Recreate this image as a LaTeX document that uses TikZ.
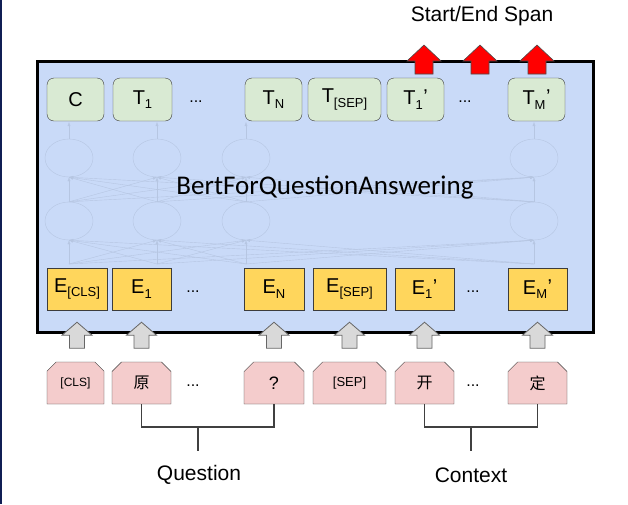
\documentclass[tikz,border=0pt]{standalone}
\usepackage{fontspec}
\setmainfont{Liberation Sans}
\newfontfamily\cjk{Noto Sans CJK SC}
\newfontfamily\calibri{Carlito}
\usetikzlibrary{shapes.misc,shapes.geometric,arrows.meta,calc}
\definecolor{bertblue}{RGB}{201,218,248}
\definecolor{outgreen}{RGB}{217,234,211}
\definecolor{embyellow}{RGB}{255,214,92}
\definecolor{tokpink}{RGB}{244,204,204}
\definecolor{edgegray}{RGB}{60,60,60}
\definecolor{faint}{RGB}{182,198,226}
\definecolor{arrowgray}{RGB}{217,217,217}
\definecolor{sidebar}{RGB}{16,30,84}
\newcommand{\lo}[1]{\raisebox{-4.5pt}{\fontsize{13}{13}\selectfont #1}}
\newcommand{\lop}[1]{\lo{#1}\kern0.5pt\raisebox{1pt}{'}}
\begin{document}
\begin{tikzpicture}[x=1pt,y=-1pt,
  outbox/.style={draw=edgegray,fill=outgreen,rounded corners=7pt,minimum height=43pt,inner sep=0pt,font=\fontsize{20}{20}\selectfont},
  embbox/.style={draw=edgegray,fill=embyellow,minimum height=42pt,inner sep=0pt,font=\fontsize{20}{20}\selectfont},
  tokbox/.style={chamfered rectangle,chamfered rectangle corners={north west,north east},chamfered rectangle xsep=6pt,draw=edgegray,fill=tokpink,minimum height=42pt,inner sep=0pt},
  neuron/.style={ellipse,draw=faint,minimum width=48pt,minimum height=38pt,inner sep=0pt},
  faintarrow/.style={draw=faint,-{Latex[length=4pt,width=3pt]}},
  gap/.style={font=\fontsize{16}{16}\selectfont},
  bigtext/.style={font=\fontsize{21}{21}\selectfont},
  redarrow/.style={fill=red,draw=black!70,line width=0.6pt,line join=miter},
  grayarrow/.style={fill=arrowgray,draw=black!60,line width=0.8pt},
  bracket/.style={draw=black!75,line width=1.1pt}]
\useasboundingbox (0,0) rectangle (628,504);
\fill[white] (0,0) rectangle (628,504);
\fill[sidebar] (0,0) rectangle (1.5,504);

% model box
\node[draw=black,line width=3pt,fill=bertblue,minimum width=556pt,minimum height=271pt,inner sep=0pt] (bert) at (315,196.5) {};

% faint hidden layers
\foreach \x [count=\i] in {69,157,246,534} {
  \node[neuron] (h1-\i) at (\x,158) {};
  \node[neuron] (h2-\i) at (\x,221) {};
  \coordinate (in-\i) at (\x,264);
  \coordinate (out-\i) at (\x,122);
}
\foreach \i in {1,...,4} {
  \draw[faintarrow] (h1-\i.north) -- (out-\i);
  \foreach \j in {1,...,4} {
    \draw[faintarrow] (h2-\i.north) -- (h1-\j.south);
    \draw[faintarrow] (in-\i) -- (h2-\j.south);
  }
}
\node[font=\calibri\fontsize{27}{27}\selectfont] (title) at (325,187) {BertForQuestionAnswering};

% output row
\node[outbox,minimum width=57pt] (c) at (75.5,99.5) {C};
\node[outbox,minimum width=59pt] (t1) at (142.5,99.5) {T\lo{1}};
\node[gap] (tdots1) at (196,102) {...};
\node[outbox,minimum width=57pt] (tn) at (273.5,99.5) {T\lo{N}};
\node[outbox,minimum width=73pt] (tsep) at (344.5,99.5) {T\lo{[SEP]}};
\node[outbox,minimum width=57pt] (tp1) at (415.5,99.5) {T\lop{1}};
\node[gap] (tdots2) at (465,102) {...};
\node[outbox,minimum width=57pt] (tpm) at (536.5,99.5) {T\lop{M}};

% embedding row
\node[embbox,minimum width=60pt] (ecls) at (77,289) {E\lo{[CLS]}};
\node[embbox,minimum width=59pt] (e1) at (141.5,289) {E\lo{1}};
\node[gap] (edots1) at (193,292) {...};
\node[embbox,minimum width=60pt] (en) at (274,289) {E\lo{N}};
\node[embbox,minimum width=73pt] (esep) at (349.5,289) {E\lo{[SEP]}};
\node[embbox,minimum width=59pt] (ep1) at (424.5,289) {E\lop{1}};
\node[gap] (edots2) at (473,292) {...};
\node[embbox,minimum width=59pt] (epm) at (537.5,289) {E\lop{M}};

% span output arrows
\node[bigtext] (span) at (482,16) {Start/End Span};
\foreach \x in {424,480,537}
  \draw[redarrow] (\x,45) -- ++(17,16) -- ++(-8,0) -- ++(0,13) -- ++(-18,0) -- ++(0,-13) -- ++(-8,0) -- cycle;

% input arrows
\foreach \n in {ecls,e1,en,esep,ep1,epm}
  \draw[grayarrow] ($(\n.south)+(0,12)$) -- ++(15,13) -- ++(-7.5,0) -- ++(0,13) -- ++(-15,0) -- ++(0,-13) -- ++(-7.5,0) -- cycle;

% input tokens
\node[tokbox,minimum width=57pt,font=\fontsize{12}{12}\selectfont] (cls) at (75.5,383) {[CLS]};
\node[tokbox,minimum width=59pt,font=\cjk\fontsize{16}{16}\selectfont] (yuan) at (141.5,383) {原};
\node[gap] (kdots1) at (193,386) {...};
\node[tokbox,minimum width=60pt,font=\fontsize{18}{18}\selectfont] (qmark) at (274,383) {?};
\node[tokbox,minimum width=73pt,font=\fontsize{13}{13}\selectfont] (sep) at (349.5,383) {[SEP]};
\node[tokbox,minimum width=59pt,font=\cjk\fontsize{16}{16}\selectfont] (kai) at (424.5,383) {开};
\node[gap] (kdots2) at (473,386) {...};
\node[tokbox,minimum width=59pt,font=\cjk\fontsize{16}{16}\selectfont] (ding) at (537.5,383) {定};

% segment brackets
\coordinate (qmid) at (198,427);
\coordinate (qend) at (198,451);
\coordinate (cmid) at (471,427);
\coordinate (cend) at (471,451);
\draw[bracket] (yuan.south) |- (qmid) -| (qmark.south);
\draw[bracket] (qmid) -- (qend);
\draw[bracket] (kai.south) |- (cmid) -| (ding.south);
\draw[bracket] (cmid) -- (cend);
\node[bigtext] (question) at (199,475) {Question};
\node[bigtext] (context) at (471,475) {Context};
\end{tikzpicture}
\end{document}
